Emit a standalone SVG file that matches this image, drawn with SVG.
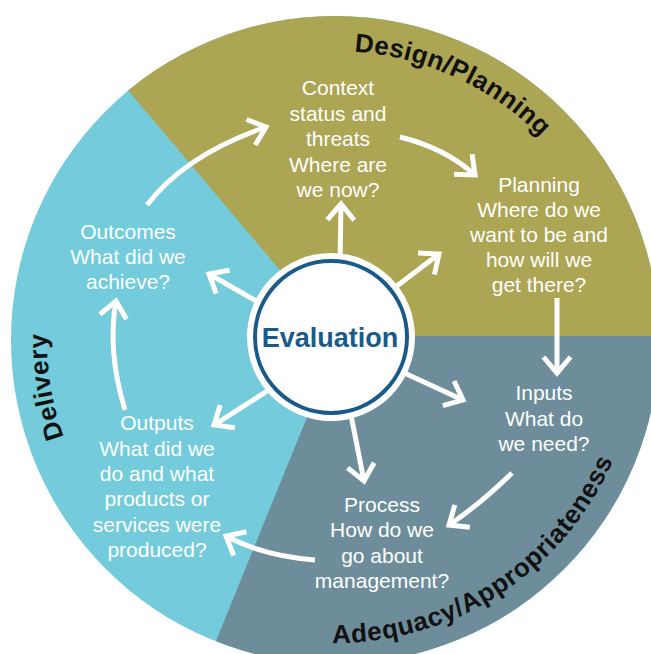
<svg xmlns="http://www.w3.org/2000/svg" width="651" height="654" viewBox="0 0 651 654">
<style>
.lbl{font-family:"Liberation Sans",Arial,sans-serif;font-size:21px;fill:#ffffff;text-anchor:middle}
.sec{font-family:"Liberation Sans",Arial,sans-serif;font-size:26px;font-weight:bold;fill:#111111}
.arr{fill:none;stroke:#ffffff;stroke-width:5;marker-end:url(#chev)}
</style>
<defs>
<clipPath id="disc"><circle cx="335" cy="340" r="324"/></clipPath>
<marker id="chev" markerUnits="userSpaceOnUse" markerWidth="40" markerHeight="40" refX="0" refY="0" orient="auto" overflow="visible">
<path d="M-16,-13.5 L0,0 L-16,13.5" fill="none" stroke="#ffffff" stroke-width="5"/>
</marker>
<path id="pDesign" d="M354.2,51.7 A289,289 0 0 1 606.6,241.2"/>
<path id="pAdeq" d="M332.4,643 A303,303 0 0 0 636.8,366.4"/>
<path id="pDeliv" d="M63.8,437 A288,288 0 0 1 99.1,174.8"/>
</defs>
<rect width="651" height="654" fill="#ffffff"/>
<g id="wheel" clip-path="url(#disc)">
<rect x="0" y="0" width="700" height="700" fill="#73CBDB"/>
<polygon points="333,333 35,-20 700,-20 700,336 340,336" fill="#ACA553"/>
<polygon points="340,336 700,336 700,700 192,700" fill="#6E8D9A"/>
</g>
<g id="section-labels">
<text class="sec" letter-spacing="0.4"><textPath href="#pDesign">Design/Planning</textPath></text>
<text class="sec" letter-spacing="0.7"><textPath href="#pAdeq">Adequacy/Appropriateness</textPath></text>
<text class="sec" letter-spacing="0.5"><textPath href="#pDeliv">Delivery</textPath></text>
</g>
<g id="connectors">
<path class="arr" d="M147,205 Q185,155 266,127"/>
<path class="arr" d="M400,137 Q445,148 475,175"/>
<path class="arr" d="M557,298 L557,373"/>
<path class="arr" d="M512,473 Q479,505 449,525"/>
<path class="arr" d="M315,560 Q263,556 226,536"/>
<path class="arr" d="M125,410 Q107,351 116,301"/>
<path class="arr" d="M340,265 L341,204"/>
<path class="arr" d="M385,295 L439,254"/>
<path class="arr" d="M265,306 L209,274"/>
<path class="arr" d="M400,371 L463,400"/>
<path class="arr" d="M350,410 L364,481"/>
<path class="arr" d="M272,388 L214,425"/>
</g>
<g id="evaluation">
<circle cx="331" cy="337" r="84" fill="#ffffff"/>
<circle cx="331" cy="337" r="76" fill="#ffffff" stroke="#185A8A" stroke-width="4"/>
<text x="330" y="347" font-family="Liberation Sans, Arial, sans-serif" font-size="27" font-weight="bold" fill="#185A8A" text-anchor="middle">Evaluation</text>
</g>
<g id="context">
<text class="lbl" x="338" y="95">Context</text>
<text class="lbl" x="338" y="120.5">status and</text>
<text class="lbl" x="338" y="146">threats</text>
<text class="lbl" x="338" y="171.5">Where are</text>
<text class="lbl" x="338" y="197">we now?</text>
</g>
<g id="planning">
<text class="lbl" x="539" y="192">Planning</text>
<text class="lbl" x="539" y="217">Where do we</text>
<text class="lbl" x="539" y="242">want to be and</text>
<text class="lbl" x="539" y="267">how will we</text>
<text class="lbl" x="539" y="292">get there?</text>
</g>
<g id="inputs">
<text class="lbl" x="544" y="400">Inputs</text>
<text class="lbl" x="544" y="425.5">What do</text>
<text class="lbl" x="544" y="451">we need?</text>
</g>
<g id="process">
<text class="lbl" x="382" y="512">Process</text>
<text class="lbl" x="382" y="537">How do we</text>
<text class="lbl" x="382" y="562.5">go about</text>
<text class="lbl" x="382" y="588">management?</text>
</g>
<g id="outputs">
<text class="lbl" x="157" y="430">Outputs</text>
<text class="lbl" x="157" y="455.5">What did we</text>
<text class="lbl" x="157" y="481">do and what</text>
<text class="lbl" x="157" y="506">products or</text>
<text class="lbl" x="157" y="531.5">services were</text>
<text class="lbl" x="157" y="557">produced?</text>
</g>
<g id="outcomes">
<text class="lbl" x="128" y="239">Outcomes</text>
<text class="lbl" x="128" y="264">What did we</text>
<text class="lbl" x="128" y="289">achieve?</text>
</g>
</svg>
